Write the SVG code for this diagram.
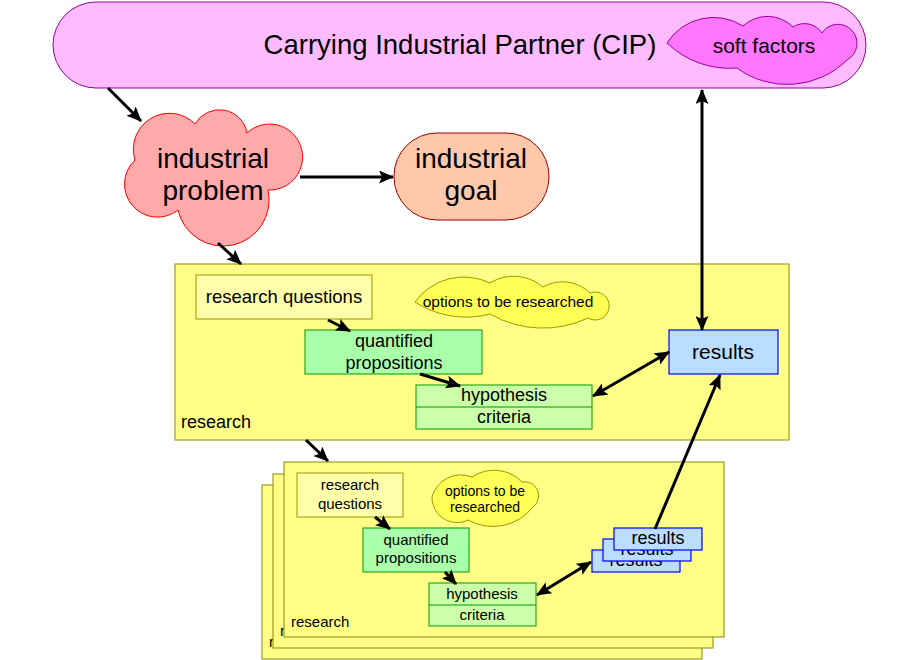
<svg xmlns="http://www.w3.org/2000/svg" width="920" height="660" viewBox="0 0 920 660">
<defs>
<marker id="ah" viewBox="0 0 15 13" markerWidth="15" markerHeight="13" refX="14" refY="6.5" orient="auto-start-reverse" markerUnits="userSpaceOnUse">
<path d="M0,0 L15,6.5 L0,13 L3,6.5 z" fill="#000"/>
</marker>
<style>
text{font-family:"Liberation Sans",Arial,sans-serif;fill:#000}
.c{text-anchor:middle}
.res{fill:#ffff88;stroke:#888800;stroke-width:1}
.rq{fill:#ffffaa;stroke:#999900;stroke-width:1}
.opt{fill:#ffff55;stroke:#999900;stroke-width:1}
.qp{fill:#aaffaa;stroke:#009900;stroke-width:1}
.hy{fill:#ccffaa;stroke:#009900;stroke-width:1}
.rs{fill:#bbddff;stroke:#0000ff;stroke-width:1.2}
.ar{fill:none;stroke:#000;stroke-width:3;marker-end:url(#ah)}
.dar{fill:none;stroke:#000;stroke-width:3;marker-end:url(#ah);marker-start:url(#ah)}
</style>
</defs>

<g id="cip">
<rect x="53" y="2" width="813" height="86" rx="43" ry="43" fill="#ffbbff" stroke="#990099" stroke-width="1"/>
<text x="460" y="54" class="c" font-size="27.5">Carrying Industrial Partner (CIP)</text>
</g>
<g id="soft-factors">
<path d="M667,43 A55,55 0 0 1 743,26 A36,36 0 0 1 793,27 A21,21 0 0 1 822,33 A19,19 0 1 1 847,60 A85,85 0 0 1 737,68 A90,90 0 0 1 667,43 Z" fill="#ff77ff" stroke="#990099" stroke-width="1"/>
<text x="764" y="53" class="c" font-size="21">soft factors</text>
</g>

<g id="industrial-problem">
<path d="M135,160 A36,36 0 0 1 195,124 A28,28 0 0 1 247,133 A33,33 0 1 1 268,190 A46,46 0 0 1 178,210 A33,33 0 0 1 135,160 Z" fill="#ffaaaa" stroke="#ff0000" stroke-width="1"/>
<text x="213" y="168" class="c" font-size="28">industrial</text>
<text x="213" y="200" class="c" font-size="28">problem</text>
</g>

<g id="industrial-goal">
<rect x="394" y="133" width="155" height="87" rx="43" ry="43" fill="#ffc8aa" stroke="#990000" stroke-width="1"/>
<text x="471" y="168" class="c" font-size="28">industrial</text>
<text x="471" y="200" class="c" font-size="28">goal</text>
</g>

<g id="research">
<rect x="175" y="264" width="614" height="176" class="res"/>
<text x="181" y="428" font-size="18">research</text>
</g>
<g id="research-questions">
<rect x="196" y="275" width="176" height="44" class="rq"/>
<text x="284" y="303" class="c" font-size="18.5">research questions</text>
</g>
<g id="options">
<path d="M415,302 A60,60 0 0 1 490,283 A45,45 0 0 1 543,287 A39,39 0 0 1 590,293 A14,14 0 1 1 588,318 A106,106 0 0 1 490,314 A94,94 0 0 1 415,302 Z" class="opt"/>
<text x="508" y="307" class="c" font-size="15.5">options to be researched</text>
</g>
<g id="quantified-propositions">
<rect x="305" y="330" width="177" height="44" class="qp"/>
<text x="394" y="347" class="c" font-size="18">quantified</text>
<text x="394" y="369" class="c" font-size="18">propositions</text>
</g>
<g id="hypothesis-criteria">
<rect x="416" y="385" width="176" height="44" class="hy"/>
<line x1="416" y1="407" x2="592" y2="407" stroke="#009900" stroke-width="1"/>
<text x="504" y="401" class="c" font-size="18">hypothesis</text>
<text x="504" y="423" class="c" font-size="18">criteria</text>
</g>
<g id="results">
<rect x="669" y="330" width="109" height="44" class="rs"/>
<text x="723" y="359" class="c" font-size="21">results</text>
</g>

<g id="research-stack-back">
<rect x="262" y="485" width="440" height="174" class="res"/>
<text x="269" y="647" font-size="15">research</text>
</g>
<g id="research-stack-middle">
<rect x="273" y="474" width="440" height="174" class="res"/>
<text x="280" y="636" font-size="15">research</text>
</g>
<g id="research-stack-front">
<rect x="284" y="462" width="440" height="175" class="res"/>
<text x="291" y="627" font-size="15">research</text>
</g>
<g id="research-questions-2">
<rect x="297" y="473" width="106" height="44" class="rq"/>
<text x="350" y="490" class="c" font-size="15">research</text>
<text x="350" y="509" class="c" font-size="15">questions</text>
</g>
<g id="options-2">
<path d="M432,497 A30,30 0 0 1 472,477 A39,39 0 0 1 522,482 A14,14 0 0 1 533,507 A51,51 0 0 1 468,520 A25,25 0 0 1 432,497 Z" class="opt"/>
<text x="485" y="496" class="c" font-size="14">options to be</text>
<text x="485" y="512" class="c" font-size="14">researched</text>
</g>
<g id="quantified-propositions-2">
<rect x="363" y="528" width="106" height="44" class="qp"/>
<text x="416" y="545" class="c" font-size="15">quantified</text>
<text x="416" y="563" class="c" font-size="15">propositions</text>
</g>
<g id="hypothesis-criteria-2">
<rect x="429" y="583" width="107" height="43" class="hy"/>
<line x1="429" y1="605" x2="536" y2="605" stroke="#009900" stroke-width="1"/>
<text x="482" y="599" class="c" font-size="15">hypothesis</text>
<text x="482" y="620" class="c" font-size="15">criteria</text>
</g>
<g id="results-stack">
<rect x="592" y="550" width="88" height="22" class="rs"/>
<text x="636" y="566" class="c" font-size="18">results</text>
<rect x="603" y="539" width="88" height="22" class="rs"/>
<text x="647" y="555" class="c" font-size="18">results</text>
<rect x="614" y="528" width="88" height="22" class="rs"/>
<text x="658" y="544" class="c" font-size="18">results</text>
</g>

<g id="connectors">
<line x1="108" y1="88" x2="141" y2="121" class="ar"/>
<line x1="300" y1="177" x2="393" y2="177" class="ar"/>
<line x1="218" y1="243" x2="241" y2="264" class="ar"/>
<line x1="328" y1="320" x2="350" y2="331" class="ar"/>
<line x1="420" y1="374" x2="460" y2="386" class="ar"/>
<line x1="593" y1="396" x2="669" y2="352" class="dar"/>
<line x1="702" y1="90" x2="702" y2="330" class="dar"/>
<line x1="655" y1="529" x2="720" y2="375" class="ar"/>
<line x1="306" y1="440" x2="328" y2="461" class="ar"/>
<line x1="375" y1="517" x2="390" y2="529" class="ar"/>
<line x1="445" y1="572" x2="456" y2="584" class="ar"/>
<line x1="537" y1="595" x2="591" y2="562" class="dar"/>
</g>
</svg>
